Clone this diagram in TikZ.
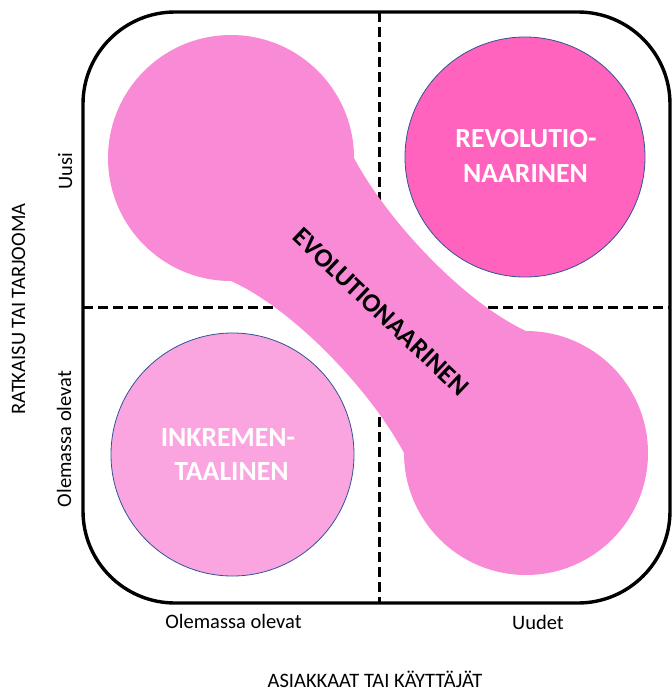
\documentclass[tikz,border=0pt]{standalone}
\usepackage{fontspec}
\setmainfont{Carlito}
\definecolor{evopink}{RGB}{249,139,214}
\definecolor{revpink}{RGB}{255,99,190}
\definecolor{inkpink}{RGB}{250,164,224}
\definecolor{rimblue}{RGB}{47,85,151}
\tikzset{
  frame/.style={line width=3.4pt, rounded corners=92pt},
  divider/.style={line width=3pt, dash pattern=on 10pt off 5pt},
  ball/.style={draw=rimblue, line width=0.8pt},
  axislabel/.style={font=\fontsize{20.5}{24}\selectfont, anchor=base, inner sep=0pt},
  whitelabel/.style={font=\bfseries\fontsize{27.7}{33}\selectfont, text=white, anchor=base, inner sep=0pt},
}
\begin{document}
\begin{tikzpicture}[x=1pt, y=-1pt]
\useasboundingbox (0,0) rectangle (672,691);
% dividers
\coordinate (vt) at (379,12);
\coordinate (vb) at (379,603);
\coordinate (hl) at (83,307);
\coordinate (hr) at (670,307);
\draw[divider] (vt) -- (vb);
\draw[divider] (hl) -- (hr);
% evolutionary dumbbell
\coordinate (A) at (231,158);
\coordinate (B) at (526,453);
\fill[evopink] (A) circle (123);
\fill[evopink] (B) circle (122);
\fill[evopink] (354,158) .. controls (386.9,219.8) and (462.6,301.4) .. (526,331)
  -- (404,453) .. controls (371.1,391.2) and (294.4,309.6) .. (231,281) -- cycle;
% circles
\fill[revpink] (525,157) circle (120);
\draw[ball] (525,157) circle (120);
\fill[inkpink] (232.5,454.5) circle (121.5);
\draw[ball] (232.5,454.5) circle (121.5);
% frame
\draw[frame] (83,12) rectangle (670,603);
% labels
\node[whitelabel] (rev1) at (526,147) {REVOLUTIO-};
\node[whitelabel] (rev2) at (525.5,182) {NAARINEN};
\node[whitelabel] (ink1) at (228,446) {INKREMEN-};
\node[whitelabel] (ink2) at (231.5,480) {TAALINEN};
\node[font=\bfseries\fontsize{26.4}{30}\selectfont, rotate=-43.5, inner sep=0pt] (evo) at (381,312) {EVOLUTIONAARINEN};
\node[axislabel] (xold) at (233.5,628) {Olemassa olevat};
\node[axislabel] (xnew) at (538,629) {Uudet};
\node[axislabel] (xtitle) at (375,687.5) {ASIAKKAAT TAI KÄYTTÄJÄT};
\node[axislabel, rotate=90] (ynew) at (72,171.5) {Uusi};
\node[axislabel, rotate=90] (yold) at (71,439) {Olemassa olevat};
\node[axislabel, rotate=90] (ytitle) at (25,309) {RATKAISU TAI TARJOOMA};
\end{tikzpicture}
\end{document}
